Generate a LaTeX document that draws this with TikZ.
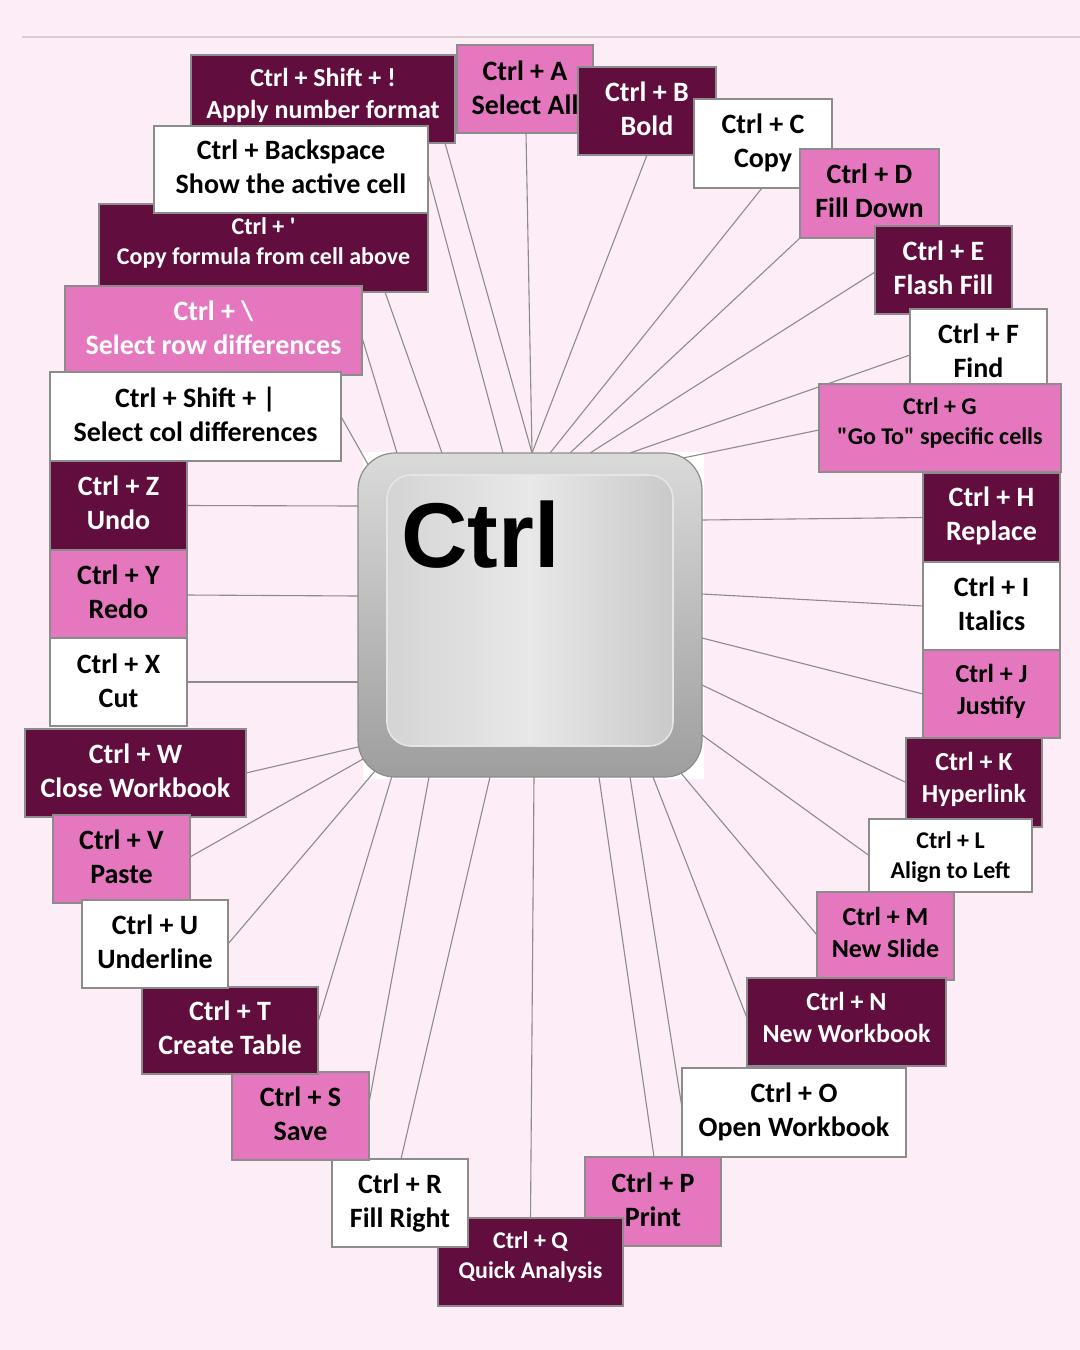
\documentclass[tikz,border=0pt]{standalone}
\usepackage{fontspec}
\setmainfont{Carlito}[Ligatures=TeXOff]
\newfontfamily\ctrlfont{Liberation Sans}
\usetikzlibrary{calc}
\definecolor{bgpink}{RGB}{252,237,246}
\definecolor{dark}{RGB}{97,14,63}
\definecolor{pink}{RGB}{229,119,190}
\definecolor{edge}{RGB}{140,140,140}
\definecolor{conncol}{RGB}{140,140,140}
\definecolor{rulecol}{RGB}{215,205,212}
\definecolor{keytop}{RGB}{218,218,218}
\definecolor{keybot}{RGB}{158,158,158}
\definecolor{faceside}{RGB}{212,212,212}
\definecolor{facemid}{RGB}{232,232,232}
\pgfdeclarelayer{bg}
\pgfdeclarelayer{lines}
\pgfsetlayers{bg,lines,main}
\tikzset{
  box/.style={draw=edge, line width=0.75pt, inner sep=0pt, outer sep=0pt, align=center},
  dk/.style={box, fill=dark, text=white},
  pk/.style={box, fill=pink, text=black},
  pkw/.style={box, fill=pink, text=white},
  wt/.style={box, fill=white, text=black},
  fa/.style={font=\fontsize{14}{17}\selectfont\bfseries},
  fb/.style={font=\fontsize{13}{16}\selectfont\bfseries},
  fc/.style={font=\fontsize{12}{15}\selectfont\bfseries},
  conn/.style={draw=conncol, line width=0.55pt},
  keyout/.style={draw=black!45, line width=0.6pt, rounded corners=18.5pt, top color=keytop, bottom color=keybot, inner sep=0pt, outer sep=0pt},
  keyin/.style={draw=white!80!gray, line width=0.8pt, rounded corners=12pt, left color=faceside, right color=faceside!95!black, middle color=facemid, inner sep=0pt, outer sep=0pt}
}
\newcommand\bx[7]{\node[#6, minimum width={(#4-#2)*0.5pt}, minimum height={(#5-#3)*0.5pt}] (#1) at ({(#2+#4)/2},{(#3+#5)/2}) {#7};}
\begin{document}
\begin{tikzpicture}[x=0.5pt,y=-0.5pt]
\useasboundingbox (0,0) rectangle (1080,1350);
\begin{pgfonlayer}{bg}
\fill[bgpink] (0,0) rectangle (1080,1350);
\draw[rulecol, line width=1pt] (22,37) -- (1080,37);
\fill[white] (363,452) rectangle (704,779);
\end{pgfonlayer}

% key
\node[keyout, minimum width=172pt, minimum height=162pt] (key) at (530,615) {};
\node[keyin, minimum width=143pt, minimum height=135.5pt] (face) at (530,610.5) {};
\node[anchor=base west, inner sep=0pt, font=\ctrlfont\bfseries\fontsize{46}{46}\selectfont] (ctrltxt) at (401,567) {Ctrl};

% top-left cluster
\bx{sh}{191}{55}{455}{143}{dk,fb,text depth=5.5pt}{Ctrl + Shift + !\\Apply number format}
\bx{fm}{99}{204}{428}{292}{dk,fc,text depth=7.3pt}{Ctrl + '\\Copy formula from cell above}
\bx{bs}{154}{126}{428}{213}{wt,fa,text depth=3pt}{Ctrl + Backspace\\Show the active cell}
\bx{rd}{65}{286}{362}{375}{pkw,fa,text depth=3pt}{Ctrl + \textbackslash\\Select row differences}
\bx{cd}{50}{372}{341}{461}{wt,fa,text depth=2.5pt}{Ctrl + Shift + |\\Select col differences}
% top-right cluster
\bx{kA}{457}{45}{593}{133}{pk,fa,text depth=1.5pt}{Ctrl + A\\Select All}
\bx{kB}{578}{67}{716}{155}{dk,fa,text depth=2.5pt}{Ctrl + B\\Bold}
\bx{kC}{694}{99}{832}{188}{wt,fa,text depth=2.7pt}{Ctrl + C\\Copy}
\bx{kD}{800}{149}{939}{238}{pk,fa,text depth=3pt}{Ctrl + D\\Fill Down}
\bx{kE}{875}{226}{1012}{314}{dk,fa,text depth=2pt}{Ctrl + E\\Flash Fill}
\bx{kF}{910}{309}{1047}{396}{wt,fa,text depth=1.5pt}{Ctrl + F\\Find}
\bx{kG}{819}{384}{1061}{472}{pk,fc,text depth=7.3pt}{Ctrl + G\\"Go To" specific cells}
% right column
\bx{kH}{923}{473}{1060}{562}{dk,fa,text depth=3.7pt}{Ctrl + H\\Replace}
\bx{kI}{923}{562}{1060}{650}{wt,fa,text depth=2pt}{Ctrl + I\\Italics}
\bx{kJ}{923}{650}{1060}{738}{pk,fb,text depth=4.5pt}{Ctrl + J\\Justify}
\bx{kK}{906}{738}{1042}{827}{dk,fb,text depth=5.5pt}{Ctrl + K\\Hyperlink}
\bx{kL}{869}{819}{1032}{892}{wt,fc,text depth=0pt}{Ctrl + L\\Align to Left}
\bx{kM}{817}{892}{954}{980}{pk,fb,text depth=3.5pt}{Ctrl + M\\New Slide}
\bx{kN}{747}{978}{946}{1066}{dk,fb,text depth=5pt}{Ctrl + N\\New Workbook}
\bx{kO}{682}{1068}{906}{1157}{wt,fa,text depth=2.7pt}{Ctrl + O\\Open Workbook}
% bottom
\bx{kP}{585}{1157}{721}{1246}{pk,fa,text depth=2pt}{Ctrl + P\\Print}
\bx{kQ}{438}{1218}{623}{1306}{dk,fc,text depth=7.3pt}{Ctrl + Q\\Quick Analysis}
\bx{kR}{332}{1159}{468}{1247}{wt,fa,text depth=2.7pt}{Ctrl + R\\Fill Right}
\bx{kS}{232}{1072}{369}{1160}{pk,fa,text depth=2pt}{Ctrl + S\\Save}
\bx{kT}{142}{987}{318}{1074}{dk,fa,text depth=3pt}{Ctrl + T\\Create Table}
% left column
\bx{kZ}{50}{461}{187}{550}{dk,fa,text depth=3pt}{Ctrl + Z\\Undo}
\bx{kY}{50}{550}{187}{638}{pk,fa,text depth=2.5pt}{Ctrl + Y\\Redo}
\bx{kX}{50}{638}{187}{726}{wt,fa,text depth=1.5pt}{Ctrl + X\\Cut}
\bx{kW}{25}{729}{246}{817}{dk,fa,text depth=2.5pt}{Ctrl + W\\Close Workbook}
\bx{kV}{53}{815}{190}{903}{pk,fa,text depth=2.5pt}{Ctrl + V\\Paste}
\bx{kU}{82}{900}{228}{988}{wt,fa,text depth=2pt}{Ctrl + U\\Underline}

\begin{pgfonlayer}{lines}
\draw[conn] ($(sh.south east)+(-10,0)$) -- ($(key.north)+(2,0)$);
\draw[conn] ($(bs.east)+(0,4)$) -- ($(key.north)+(-27,0)$);
\draw[conn] ($(fm.south east)+(-43,0)$) -- ($(key.north)+(-88,0)$);
\draw[conn] ($(rd.east)+(0,7)$) -- ($(key.north)+(-133,0)$);
\draw[conn] (cd.east) -- ($(key.north west)+(12,15)$);
\draw[conn] ($(kA.south)+(1,0)$) -- ($(key.north)+(2,0)$);
\draw[conn] (kB.south) -- ($(key.north)+(2,0)$);
\draw[conn] ($(kC.south)+(-1,0)$) -- ($(key.north)+(20,0)$);
\draw[conn] (kD.south west) -- ($(key.north)+(40,0)$);
\draw[conn] ($(kE.west)+(0,2)$) -- ($(key.north)+(60,0)$);
\draw[conn] ($(kF.west)+(0,2.5)$) -- ($(key.north)+(100,0)$);
\draw[conn] ($(kG.west)+(0,2)$) -- ($(key.north east)+(-19,5)$);
\draw[conn] (kH.west) -- ($(key.east)+(0,-95)$);
\draw[conn] (kI.west) -- ($(key.east)+(0,-21)$);
\draw[conn] (kJ.west) -- ($(key.east)+(0,23)$);
\draw[conn] (kK.west) -- ($(key.east)+(0,70)$);
\draw[conn] (kL.west) -- ($(key.east)+(0,120)$);
\draw[conn] ($(kM.west)+(0,-1)$) -- ($(key.south east)+(-22,-5)$);
\draw[conn] ($(kN.west)+(0,-4)$) -- ($(key.south)+(123,0)$);
\draw[conn] ($(kO.west)+(0,-4.5)$) -- ($(key.south)+(100,0)$);
\draw[conn] ($(kP.north)+(1,0)$) -- ($(key.south)+(69,0)$);
\draw[conn] (kQ.north) -- ($(key.south)+(4,0)$);
\draw[conn] ($(kR.north)+(1,0)$) -- ($(key.south)+(-40,0)$);
\draw[conn] ($(kS.east)+(0,-13)$) -- ($(key.south)+(-101,0)$);
\draw[conn] ($(kT.east)+(0,-8.5)$) -- ($(key.south)+(-138,-1)$);
\draw[conn] (kU.east) -- ($(key.south west)+(17,-6)$);
\draw[conn] ($(kV.east)+(0,-2)$) -- ($(key.south west)+(5,-18)$);
\draw[conn] (kW.east) -- ($(key.west)+(0,132)$);
\draw[conn] (kX.east) -- ($(key.west)+(0,67)$);
\draw[conn] ($(kY.east)+(0,1)$) -- ($(key.west)+(0,-19)$);
\draw[conn] (kZ.east) -- ($(key.west)+(0,-109)$);
\end{pgfonlayer}
\end{tikzpicture}
\end{document}
